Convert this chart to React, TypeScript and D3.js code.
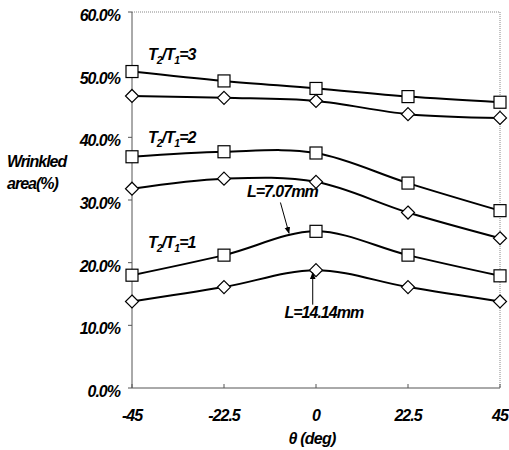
import * as d3 from 'd3'
import React from 'react'

const thetas = [-45, -22.5, 0, 22.5, 45]
const xTickLabels = ['-45', '-22.5', '0', '22.5', '45']
const yTicks = [0, 10, 20, 30, 40, 50, 60]

// wrinkled area (%) per case
const sqRatio3 = [50.5, 49.0, 47.8, 46.5, 45.6]
const diRatio3 = [46.6, 46.3, 45.8, 43.7, 43.1]
const sqRatio2 = [36.9, 37.7, 37.5, 32.7, 28.3]
const diRatio2 = [31.8, 33.4, 32.9, 28.0, 23.9]
const sqRatio1 = [18.0, 21.2, 25.0, 21.2, 17.9]
const diRatio1 = [13.8, 16.1, 18.8, 16.1, 13.8]

const W = 509
const H = 450
const margin = { top: 12, right: 9, bottom: 62, left: 132 }
const FONT = '"Liberation Sans", Arial, sans-serif'

const x = d3.scaleLinear().domain([-45, 45]).range([margin.left, W - margin.right])
const y = d3.scaleLinear().domain([0, 60]).range([H - margin.bottom, margin.top])

const line = d3
  .line<number>()
  .x((_, i) => x(thetas[i]))
  .y(d => y(d))
  .curve(d3.curveCatmullRom.alpha(0))

const series = [
  { vals: sqRatio3, shape: 'sq' },
  { vals: diRatio3, shape: 'di' },
  { vals: sqRatio2, shape: 'sq' },
  { vals: diRatio2, shape: 'di' },
  { vals: sqRatio1, shape: 'sq' },
  { vals: diRatio1, shape: 'di' },
]

function Ratio(props: { tx: number; ty: number; n: string }) {
  return (
    <text x={x(props.tx)} y={y(props.ty)} fontSize={16} letterSpacing={-0.9}>
      T<tspan fontSize={10.5} dy={4}>2</tspan>
      <tspan dy={-4}>/T</tspan>
      <tspan fontSize={10.5} dy={4}>1</tspan>
      <tspan dy={-4}>={props.n}</tspan>
    </text>
  )
}

export default function App() {
  const x0 = margin.left
  const x1 = W - margin.right
  const y0 = H - margin.bottom
  const y1 = margin.top
  return (
    <svg
      width={W}
      height={H}
      style={{ position: 'absolute', left: 0, top: 0, background: '#fff' }}
      fontFamily={FONT}
      fontWeight="bold"
      fontStyle="italic"
    >
      <defs>
        <marker id="ah" viewBox="0 0 10 10" refX="9" refY="5" markerWidth="7" markerHeight="7" orient="auto">
          <path d="M0,1 L10,5 L0,9 z" fill="#000" />
        </marker>
      </defs>
      {/* frame */}
      <line x1={x0} x2={x1} y1={y1} y2={y1} stroke="#888" strokeDasharray="1,1" />
      <line x1={x1} x2={x1} y1={y1} y2={y0} stroke="#888" strokeDasharray="1,1" />
      <line x1={x0} x2={x0} y1={y1} y2={y0} stroke="#555" />
      <line x1={x0} x2={x1} y1={y0} y2={y0} stroke="#555" />
      {yTicks.map(t => (
        <g key={t}>
          <line x1={x0 - 4} x2={x0} y1={y(t)} y2={y(t)} stroke="#555" />
          <text x={x0 - 12} y={y(t) + 9} textAnchor="end" fontSize={16} letterSpacing={-1}>
            {t.toFixed(1)}%
          </text>
        </g>
      ))}
      {thetas.map((t, i) => (
        <g key={t}>
          <line x1={x(t)} x2={x(t)} y1={y0} y2={y0 - 4} stroke="#555" />
          <text x={x(t)} y={y0 + 33} textAnchor="middle" fontSize={16} letterSpacing={-1}>
            {xTickLabels[i]}
          </text>
        </g>
      ))}
      <text x={x(0) - 4} y={y0 + 56} textAnchor="middle" fontSize={16} letterSpacing={-0.8}>
        θ (deg)
      </text>
      <text x={7} y={167} fontSize={16} letterSpacing={-1}>Wrinkled</text>
      <text x={7} y={189} fontSize={16} letterSpacing={-1}>area(%)</text>

      {series.map((s, k) => (
        <g key={k}>
          <path d={line(s.vals) ?? ''} fill="none" stroke="#000" strokeWidth={2} />
          {s.vals.map((v, i) =>
            s.shape === 'sq' ? (
              <rect key={i} x={x(thetas[i]) - 6} y={y(v) - 6} width={12} height={12} fill="#fff" stroke="#000" strokeWidth={1.2} />
            ) : (
              <path
                key={i}
                d={`M${x(thetas[i])},${y(v) - 6.5} l6.5,6.5 l-6.5,6.5 l-6.5,-6.5 z`}
                fill="#fff"
                stroke="#000"
                strokeWidth={1.2}
              />
            )
          )}
        </g>
      ))}

      <Ratio tx={-41.1} ty={52.3} n="3" />
      <Ratio tx={-41.1} ty={39.1} n="2" />
      <Ratio tx={-41.1} ty={22.4} n="1" />

      <text x={x(-16.9)} y={y(30.4)} fontSize={16} letterSpacing={-1}>L=7.07mm</text>
      <line x1={x(-8.7)} y1={y(29.6)} x2={x(-6.6)} y2={y(24.7)} stroke="#000" strokeWidth={1} markerEnd="url(#ah)" />
      <text x={x(-7.7)} y={y(11.1)} fontSize={16} letterSpacing={-1}>L=14.14mm</text>
      <line x1={x(-0.8)} y1={y(13.3)} x2={x(-0.8)} y2={y(18.4)} stroke="#000" strokeWidth={1} markerEnd="url(#ah)" />
    </svg>
  )
}
